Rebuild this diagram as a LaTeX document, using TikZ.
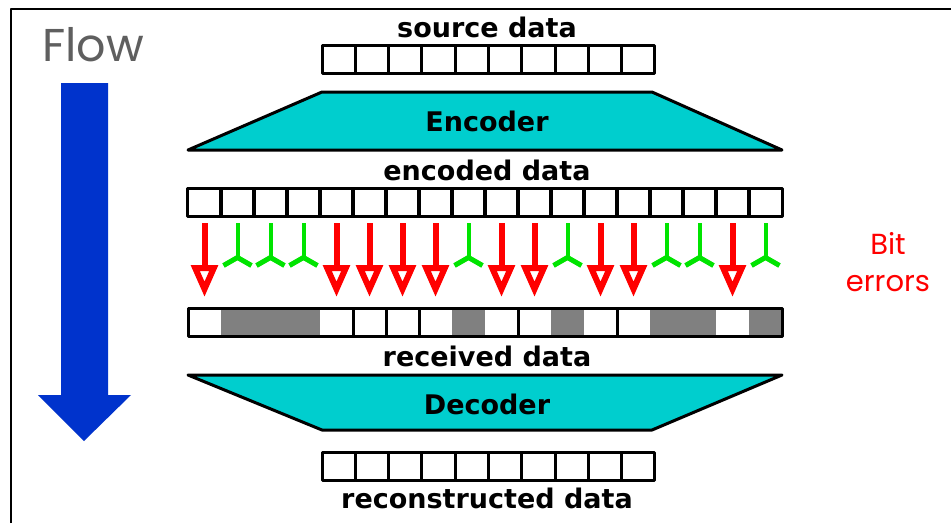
\documentclass[tikz,border=0pt]{standalone}
\usepackage{fontspec}
\setmainfont{DejaVu Sans}
\newfontfamily\roundfont{Poppins}
\usetikzlibrary{arrows.meta,positioning}

\definecolor{codercyan}{RGB}{0,206,206}
\definecolor{flowblue}{RGB}{0,51,204}
\definecolor{okgreen}{RGB}{0,228,0}
\definecolor{bitgray}{RGB}{128,128,128}
\definecolor{flowgray}{RGB}{95,95,95}

\tikzset{
    cell/.style={draw, line width=3pt, minimum width=33.2pt, minimum height=28pt,
        inner sep=0pt, outer sep=0pt},
    rxcell/.style={minimum width=33pt, minimum height=28pt, inner sep=0pt, outer sep=0pt},
    caption/.style={font=\fontsize{27}{27}\selectfont\bfseries},
    coder/.style={draw, line width=3pt, fill=codercyan, line join=round},
    % bit 1 = flipped on the channel, bit 0 = came through
    ch1/.style={red, line width=6pt, shorten <=7pt, shorten >=11pt,
        -{Triangle[open, length=32pt, width=26pt, line width=6pt]}},
    ch0/.style={okgreen, line width=4pt, shorten <=7pt, shorten >=40pt,
        -{Straight Barb[reversed, length=8pt, width=28pt, line width=5pt]}},
    rx1/.style={fill=white},
    rx0/.style={fill=bitgray},
}

\begin{document}
\begin{tikzpicture}[x=1pt, y=-1pt, line join=round]
    \useasboundingbox (0,0) rectangle (951,523);
    \fill[white] (0,0) rectangle (951,523);
    \draw[line width=2pt] (11,523) -- (11,9) -- (951,9);

    % flow arrow on the left
    \node[font=\roundfont\fontsize{46}{46}\selectfont, text=flowgray] (flow) at (93,45) {Flow};
    \fill[flowblue] (61,83) -- (108,83) -- (108,395) -- (131,395) -- (84,441)
        -- (38,395) -- (61,395) -- cycle;

    % source word
    \node[caption] (srclbl) at (487,27) {source data};
    \foreach \i in {1,...,10}
        \node[cell] (s\i) at ({322+33.3*(\i-0.5)},59) {};

    % encoder
    \draw[coder] (188,150) -- (322,92) -- (652,92) -- (782,150) -- cycle;
    \node[caption] (enc) at (487,121) {Encoder};

    \node[caption] (enclbl) at (487,170) {encoded data};

    % codeword, channel and received word
    \foreach \b [count=\i] in {1,0,0,0,1,1,1,1,0,1,1,0,1,1,0,0,1,0} {
        \node[cell] (e\i) at ({188+33*(\i-0.5)},202) {};
        \node[rxcell, rx\b] (r\i) at ({188+33*(\i-0.5)},322) {};
        \draw[ch\b] (e\i.south) -- (r\i.north);
    }
    \foreach \b [count=\i, remember=\b as \prev (initially 0)] in {1,0,0,0,1,1,1,1,0,1,1,0,1,1,0,0,1,0} {
        \ifnum\prev=1 \ifnum\b=1
            \draw[line width=3pt] (r\i.north west) -- (r\i.south west);
        \fi\fi
    }
    \draw[line width=3pt] (r1.north west) rectangle (r18.south east);

    \node[text=red, align=center, font=\roundfont\fontsize{29}{37}\selectfont] (errs) at (888,262) {Bit\\errors};

    \node[caption] (rxlbl) at (487,356) {received data};

    % decoder
    \draw[coder] (188,375) -- (782,375) -- (652,430) -- (322,430) -- cycle;
    \node[caption] (dec) at (487,404) {Decoder};

    % reconstructed word
    \foreach \i in {1,...,10}
        \node[cell] (o\i) at ({322+33.3*(\i-0.5)},466) {};
    \node[caption] (outlbl) at (487,498) {reconstructed data};
\end{tikzpicture}
\end{document}
